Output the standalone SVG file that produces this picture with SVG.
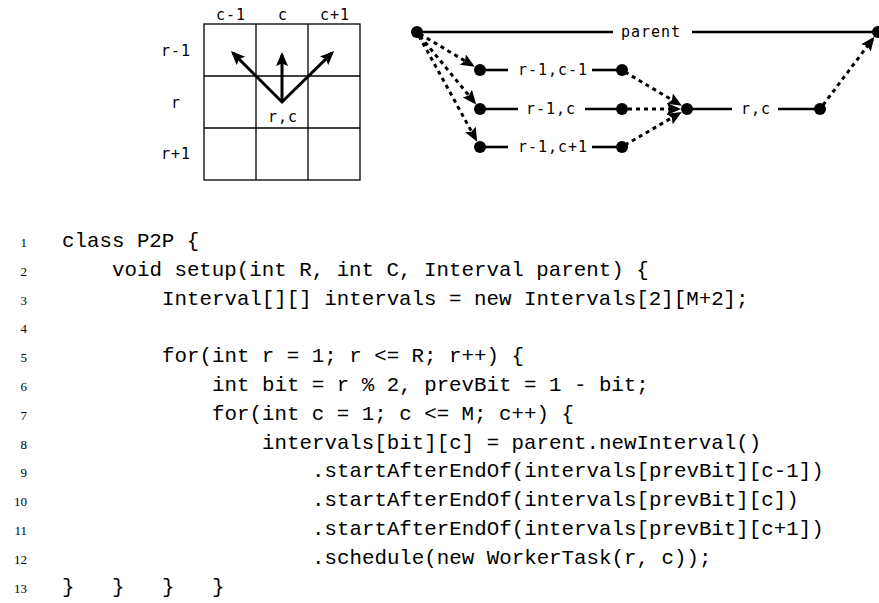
<svg xmlns="http://www.w3.org/2000/svg" width="879" height="603" viewBox="0 0 879 603">
  <style>
    .lbl { font-family: "DejaVu Sans Mono", monospace; font-size: 15px; letter-spacing: 1px; fill: #000; }
    .mid { text-anchor: middle; }
    .grid { fill: none; stroke: #000; stroke-width: 1.3; }
    .arr { fill: none; stroke: #000; stroke-width: 3; stroke-linejoin: miter; }
    .seg { stroke: #000; stroke-width: 2.6; }
    .dot { fill: #000; }
    .dep { fill: none; stroke: #000; stroke-width: 3; stroke-dasharray: 4 4; }
    .code { font-family: "Liberation Mono", "Courier New", monospace; font-size: 20.8px; fill: #000; white-space: pre; }
    .ln { font-family: "Liberation Serif", serif; font-size: 13px; fill: #000; text-anchor: end; }
  </style>
  <defs>
    <marker id="head" markerUnits="userSpaceOnUse" markerWidth="16" markerHeight="14" refX="11" refY="6" orient="auto-start-reverse">
      <path d="M0,0 L14,6 L0,12 L2.5,6 z" fill="#000"/>
    </marker>
  </defs>

  <!-- neighbourhood grid -->
  <g id="grid">
    <rect class="grid" x="204" y="24" width="156" height="156"/>
    <line class="grid" x1="256" y1="24" x2="256" y2="180"/>
    <line class="grid" x1="308" y1="24" x2="308" y2="180"/>
    <line class="grid" x1="204" y1="76" x2="360" y2="76"/>
    <line class="grid" x1="204" y1="128" x2="360" y2="128"/>
    <text class="lbl mid" x="231" y="20">c-1</text>
    <text class="lbl mid" x="283" y="20">c</text>
    <text class="lbl mid" x="335" y="20">c+1</text>
    <text class="lbl mid" x="176" y="56">r-1</text>
    <text class="lbl mid" x="176" y="108">r</text>
    <text class="lbl mid" x="176" y="159">r+1</text>
    <text class="lbl mid" x="283" y="122">r,c</text>
    <path class="arr" d="M233.1,53.1 L282,102 L331.9,53.1" marker-start="url(#head)" marker-end="url(#head)"/>
    <line class="arr" x1="282" y1="102" x2="282" y2="55" marker-end="url(#head)"/>
  </g>

  <!-- interval nodes -->
  <g id="parent">
    <line class="seg" x1="417" y1="32" x2="613" y2="32"/>
    <text class="lbl mid" x="651" y="37">parent</text>
    <line class="seg" x1="692" y1="32" x2="878" y2="32"/>
    <circle class="dot" cx="417" cy="32" r="6"/>
    <circle class="dot" cx="878" cy="32" r="6"/>
  </g>
  <g id="prev-left">
    <line class="seg" x1="480" y1="70" x2="508" y2="70"/>
    <text class="lbl mid" x="553" y="75">r-1,c-1</text>
    <line class="seg" x1="592" y1="70" x2="622" y2="70"/>
    <circle class="dot" cx="480" cy="70" r="6"/>
    <circle class="dot" cx="622" cy="70" r="6"/>
  </g>
  <g id="prev-mid">
    <line class="seg" x1="480" y1="109" x2="518" y2="109"/>
    <text class="lbl mid" x="551" y="114">r-1,c</text>
    <line class="seg" x1="585" y1="109" x2="622" y2="109"/>
    <circle class="dot" cx="480" cy="109" r="6"/>
    <circle class="dot" cx="622" cy="109" r="6"/>
  </g>
  <g id="prev-right">
    <line class="seg" x1="480" y1="147" x2="508" y2="147"/>
    <text class="lbl mid" x="553" y="152">r-1,c+1</text>
    <line class="seg" x1="592" y1="147" x2="622" y2="147"/>
    <circle class="dot" cx="480" cy="147" r="6"/>
    <circle class="dot" cx="622" cy="147" r="6"/>
  </g>
  <g id="current">
    <line class="seg" x1="687" y1="109" x2="732" y2="109"/>
    <text class="lbl mid" x="756" y="114">r,c</text>
    <line class="seg" x1="778" y1="109" x2="820" y2="109"/>
    <circle class="dot" cx="687" cy="109" r="6"/>
    <circle class="dot" cx="820" cy="109" r="6"/>
  </g>

  <!-- ordering dependencies -->
  <g id="connectors">
    <line class="dep" x1="420" y1="34" x2="472.3" y2="65.3" marker-end="url(#head)"/>
    <line class="dep" x1="420" y1="36" x2="474.3" y2="102.1" marker-end="url(#head)"/>
    <line class="dep" x1="419" y1="36" x2="475.7" y2="139.1" marker-end="url(#head)"/>
    <line class="dep" x1="625" y1="72" x2="679.3" y2="104.3" marker-end="url(#head)"/>
    <line class="dep" x1="628" y1="109" x2="678" y2="109" marker-end="url(#head)"/>
    <line class="dep" x1="625" y1="145" x2="679.2" y2="113.5" marker-end="url(#head)"/>
    <line class="dep" x1="823" y1="105" x2="872.6" y2="39.2" marker-end="url(#head)"/>
  </g>

  <!-- code listing -->
  <g id="listing">
    <text class="ln" x="27" y="247">1</text>
    <text class="ln" x="27" y="275.8">2</text>
    <text class="ln" x="27" y="304.6">3</text>
    <text class="ln" x="27" y="333.4">4</text>
    <text class="ln" x="27" y="362.2">5</text>
    <text class="ln" x="27" y="391">6</text>
    <text class="ln" x="27" y="419.8">7</text>
    <text class="ln" x="27" y="448.6">8</text>
    <text class="ln" x="27" y="477.4">9</text>
    <text class="ln" x="27" y="506.2">10</text>
    <text class="ln" x="27" y="535">11</text>
    <text class="ln" x="27" y="563.8">12</text>
    <text class="ln" x="27" y="592.6">13</text>
    <text class="code" x="62" y="247">class P2P {</text>
    <text class="code" x="112" y="275.8">void setup(int R, int C, Interval parent) {</text>
    <text class="code" x="162" y="304.6">Interval[][] intervals = new Intervals[2][M+2];</text>
    <text class="code" x="162" y="362.2">for(int r = 1; r &lt;= R; r++) {</text>
    <text class="code" x="212" y="391">int bit = r % 2, prevBit = 1 - bit;</text>
    <text class="code" x="212" y="419.8">for(int c = 1; c &lt;= M; c++) {</text>
    <text class="code" x="262" y="448.6">intervals[bit][c] = parent.newInterval()</text>
    <text class="code" x="312" y="477.4">.startAfterEndOf(intervals[prevBit][c-1])</text>
    <text class="code" x="312" y="506.2">.startAfterEndOf(intervals[prevBit][c])</text>
    <text class="code" x="312" y="535">.startAfterEndOf(intervals[prevBit][c+1])</text>
    <text class="code" x="312" y="563.8">.schedule(new WorkerTask(r, c));</text>
    <text class="code" x="62" y="592.6">}</text>
    <text class="code" x="112" y="592.6">}</text>
    <text class="code" x="162" y="592.6">}</text>
    <text class="code" x="212" y="592.6">}</text>
  </g>
</svg>
